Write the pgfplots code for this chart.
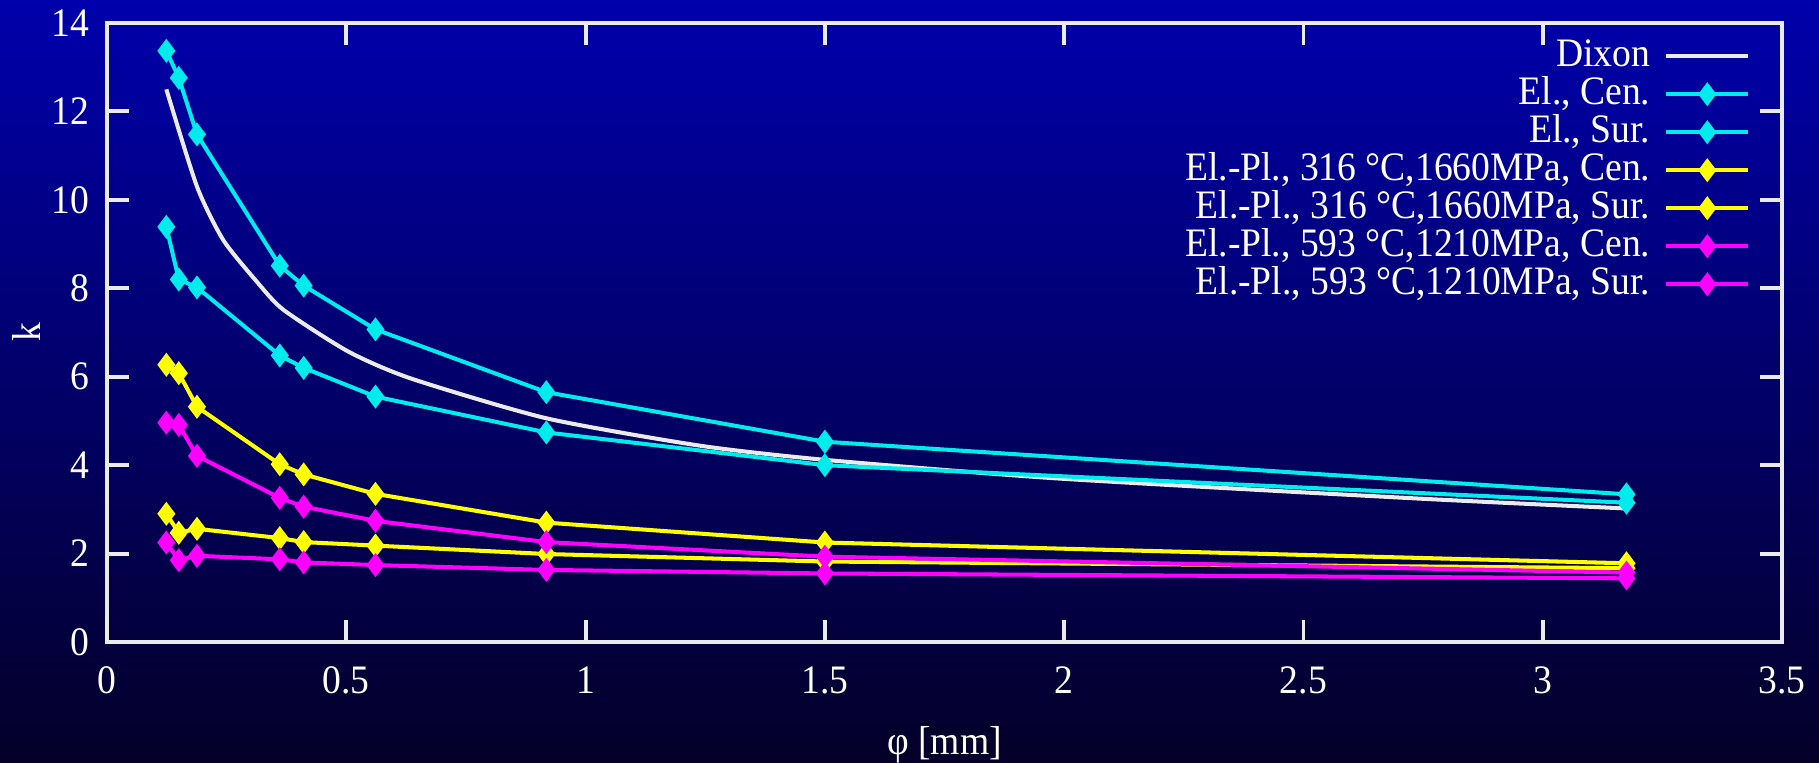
\documentclass[border=0pt]{standalone}
\usepackage{fontspec}
\setmainfont{Liberation Serif}[FakeStretch=0.93]
\usepackage{pgfplots}
\pgfplotsset{compat=1.18}
\definecolor{bgtop}{RGB}{0,0,172}
\definecolor{bgmid}{RGB}{0,0,100}
\definecolor{bgbot}{RGB}{4,0,40}
\definecolor{ccyan}{RGB}{0,235,235}
\definecolor{cyel}{RGB}{255,255,0}
\definecolor{cmag}{RGB}{255,0,255}
\definecolor{cwhite}{RGB}{235,235,235}
\begin{document}
\begin{tikzpicture}
\useasboundingbox (0,0) rectangle (18.19,7.62);
\shade[top color=bgtop, middle color=bgmid, bottom color=bgbot] (0,0) rectangle (18.19,7.62);
\begin{axis}[
  at={(1.07cm,1.20cm)}, anchor=south west,
  scale only axis, width=16.75cm, height=6.19cm,
  xmin=0, xmax=3.5, ymin=0, ymax=14,
  xtick={0,0.5,1,1.5,2,2.5,3,3.5},
  ytick={0,2,4,6,8,10,12,14},
  /pgf/number format/assume math mode=true,
  axis line style={cwhite, line width=1.15pt},
  tick style={cwhite, line width=1.1pt},
  major tick length=0.22cm,
  tick align=inside, tick pos=both,
  font=\fontsize{11.5}{12}\selectfont,
  ticklabel style={text=white},
  xticklabel style={yshift=-0.12cm},
  yticklabel style={xshift=-0.05cm},
  xlabel={φ [mm]}, ylabel={k},
  label style={text=white},
  xlabel style={at={(rel axis cs:0.5,-0.166)}, anchor=center},
  ylabel style={at={(rel axis cs:-0.048,0.5)}, anchor=center, rotate=0},
  legend plot pos=right, legend cell align=right,
  legend image code/.code={\draw[mark repeat=2,mark phase=2,#1] plot coordinates {(0cm,0cm)(0.41cm,0cm)(0.82cm,0cm)};},
  legend style={draw=none, fill=none, text=white, inner sep=0pt,
    at={(rel axis cs:1,1)}, anchor=north east, xshift=-0.31cm, yshift=-0.15cm,
    nodes={inner sep=0pt, text height=0.28cm, text depth=0.07cm},
    row sep=0.03cm, column sep=0.14cm,
    font=\fontsize{11.5}{12}\selectfont},
  every axis plot/.append style={line width=1.15pt},
  mark size=3.1pt,
]
\addplot[cwhite, no markers, smooth, tension=0.4] coordinates {
(0.124,12.5)(0.188,10.3)(0.243,9.09)(0.313,8.15)(0.369,7.51)(0.504,6.57)(0.635,5.96)(0.918,5.06)(1.239,4.44)(1.5,4.12)(1.985,3.70)(2.73,3.25)(3.175,3.02)};
\addlegendentry{Dixon}
\addplot[ccyan, mark=diamond*, mark options={fill=ccyan, draw=ccyan, line width=0.4pt}] coordinates {
(0.124,13.37)(0.15,12.76)(0.188,11.48)(0.361,8.51)(0.411,8.06)(0.561,7.07)(0.918,5.65)(1.5,4.53)(3.175,3.34)};
\addlegendentry{El., Cen.}
\addplot[ccyan, mark=diamond*, mark options={fill=ccyan, draw=ccyan, line width=0.4pt}] coordinates {
(0.124,9.39)(0.15,8.20)(0.188,8.02)(0.361,6.48)(0.411,6.20)(0.561,5.55)(0.918,4.74)(1.5,4.00)(3.175,3.15)};
\addlegendentry{El., Sur.}
\addplot[cyel, mark=diamond*, mark options={fill=cyel, draw=cyel, line width=0.4pt}] coordinates {
(0.124,6.27)(0.15,6.08)(0.188,5.32)(0.361,4.02)(0.411,3.79)(0.561,3.35)(0.918,2.70)(1.5,2.25)(3.175,1.78)};
\addlegendentry{El.-Pl., 316 °C,1660MPa, Cen.}
\addplot[cyel, mark=diamond*, mark options={fill=cyel, draw=cyel, line width=0.4pt}] coordinates {
(0.124,2.90)(0.15,2.47)(0.188,2.56)(0.361,2.35)(0.411,2.26)(0.561,2.18)(0.918,1.99)(1.5,1.82)(3.175,1.67)};
\addlegendentry{El.-Pl., 316 °C,1660MPa, Sur.}
\addplot[cmag, mark=diamond*, mark options={fill=cmag, draw=cmag, line width=0.4pt}] coordinates {
(0.124,4.96)(0.15,4.91)(0.188,4.21)(0.361,3.26)(0.411,3.06)(0.561,2.74)(0.918,2.26)(1.5,1.93)(3.175,1.57)};
\addlegendentry{El.-Pl., 593 °C,1210MPa, Cen.}
\addplot[cmag, mark=diamond*, mark options={fill=cmag, draw=cmag, line width=0.4pt}] coordinates {
(0.124,2.25)(0.15,1.85)(0.188,1.95)(0.361,1.87)(0.411,1.80)(0.561,1.74)(0.918,1.63)(1.5,1.55)(3.175,1.44)};
\addlegendentry{El.-Pl., 593 °C,1210MPa, Sur.}
\end{axis}
\end{tikzpicture}
\end{document}
